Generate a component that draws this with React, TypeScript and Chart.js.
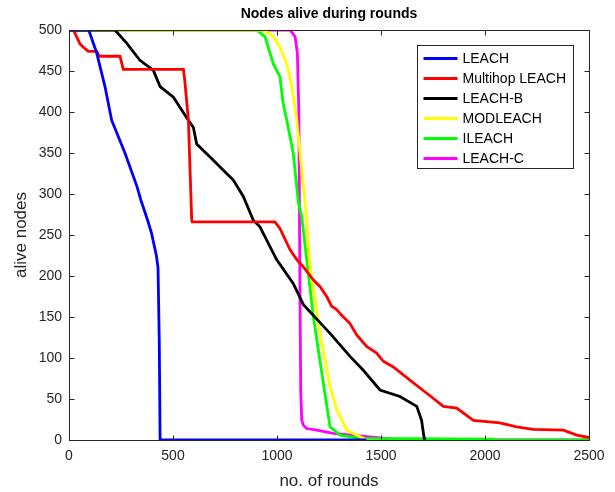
import React, { useEffect, useRef } from "react";
import { Chart, registerables } from "chart.js";

Chart.register(...registerables);

const chartTitle = "Nodes alive during rounds";
const xAxisLabel = "no. of rounds";
const yAxisLabel = "alive nodes";

const seriesNames = ["LEACH", "Multihop LEACH", "LEACH-B", "MODLEACH", "ILEACH", "LEACH-C"];
const seriesColors = ["#0000ff", "#ff0000", "#000000", "#ffff00", "#00ff00", "#ff00ff"];

const leachRounds = [0, 95, 133, 173, 205, 269, 327, 345, 378, 397, 420, 428, 434, 438, 1430];
const leachAlive = [500, 500, 472, 431, 390, 350, 309, 293, 268, 252, 225, 210, 120, 0, 0];

const multihopRounds = [0, 21, 53, 69, 93, 133, 146, 245, 261, 550, 556, 574, 590, 593, 990, 1014, 1063, 1095, 1127, 1175, 1207, 1239, 1263, 1287, 1311, 1351, 1383, 1431, 1479, 1511, 1559, 1639, 1720, 1800, 1864, 1944, 2072, 2152, 2232, 2377, 2441, 2500];
const multihopAlive = [500, 500, 483, 479, 474, 474, 468, 468, 452, 452, 440, 390, 268, 266, 266, 258, 232, 220, 211, 195, 187, 175, 163, 159, 152, 142, 128, 114, 106, 96, 89, 73, 57, 41, 39, 24, 21, 16, 13, 12, 6, 3];

const leachBRounds = [0, 221, 277, 341, 405, 438, 502, 566, 598, 614, 678, 742, 790, 838, 886, 918, 998, 1078, 1127, 1255, 1351, 1415, 1495, 1591, 1672, 1695, 1707, 1710];
const leachBAlive = [500, 500, 484, 463, 451, 431, 418, 393, 381, 361, 345, 329, 317, 297, 268, 260, 220, 191, 165, 130, 102, 85, 61, 53, 41, 24, 3, 0];

const modleachRounds = [0, 934, 982, 1014, 1047, 1071, 1095, 1119, 1143, 1159, 1207, 1255, 1287, 1335, 1415, 1430];
const modleachAlive = [500, 500, 492, 479, 459, 431, 390, 329, 268, 211, 130, 65, 37, 12, 2, 0];

const ileachRounds = [0, 902, 942, 966, 982, 1014, 1030, 1047, 1078, 1103, 1119, 1175, 1223, 1255, 1303, 1400, 2040, 2045, 2500];
const ileachAlive = [500, 500, 492, 472, 459, 443, 410, 390, 350, 289, 272, 150, 69, 16, 6, 2, 1, 0, 0];

const leachCRounds = [0, 1063, 1087, 1098, 1105, 1110, 1114, 1119, 1127, 1143, 1191, 1271, 1431, 1559, 1580, 2500];
const leachCAlive = [500, 500, 492, 472, 400, 200, 60, 24, 18, 14, 12, 8, 4, 1, 0, 0];

const xTicks = [0, 500, 1000, 1500, 2000, 2500];
const yTicks = [0, 50, 100, 150, 200, 250, 300, 350, 400, 450, 500];

const allRounds = [leachRounds, multihopRounds, leachBRounds, modleachRounds, ileachRounds, leachCRounds];
const allAlive = [leachAlive, multihopAlive, leachBAlive, modleachAlive, ileachAlive, leachCAlive];

const FONT = "'Liberation Sans', Arial, Helvetica, sans-serif";
const AXIS_COLOR = "#262626";

const framePlugin = {
  id: "matlabFrame",
  afterDatasetsDraw(chart: any) {
    const { ctx, chartArea: a, scales } = chart;
    ctx.save();
    const L = Math.round(a.left) + 0.5;
    const R = Math.round(a.right) + 0.5;
    const T = Math.round(a.top) + 0.5;
    const B = Math.round(a.bottom) + 0.5;
    ctx.strokeStyle = AXIS_COLOR;
    ctx.lineWidth = 1;
    ctx.strokeRect(L, T, R - L, B - T);
    const tl = 5;
    ctx.beginPath();
    xTicks.forEach((v) => {
      const px = Math.round(scales.x.getPixelForValue(v)) + 0.5;
      ctx.moveTo(px, B);
      ctx.lineTo(px, B - tl);
      ctx.moveTo(px, T);
      ctx.lineTo(px, T + tl);
    });
    yTicks.forEach((v) => {
      const py = Math.round(scales.y.getPixelForValue(v)) + 0.5;
      ctx.moveTo(L, py);
      ctx.lineTo(L + tl, py);
      ctx.moveTo(R, py);
      ctx.lineTo(R - tl, py);
    });
    ctx.stroke();

    // legend
    const lw = 156;
    const lh = 123;
    const lx = Math.round(a.right) - 16 - lw + 0.5;
    const ly = Math.round(a.top) + 15 + 0.5;
    ctx.fillStyle = "#ffffff";
    ctx.fillRect(lx, ly, lw, lh);
    ctx.strokeStyle = AXIS_COLOR;
    ctx.lineWidth = 1;
    ctx.strokeRect(lx, ly, lw, lh);
    ctx.font = `14px ${FONT}`;
    ctx.textBaseline = "middle";
    ctx.textAlign = "left";
    chart.data.datasets.forEach((ds: any, i: number) => {
      const yy = ly + 13 + i * 20;
      ctx.strokeStyle = ds.borderColor;
      ctx.lineWidth = 2.8;
      ctx.beginPath();
      ctx.moveTo(lx + 6, yy);
      ctx.lineTo(lx + 40, yy);
      ctx.stroke();
      ctx.fillStyle = "#000000";
      ctx.fillText(ds.label, lx + 45, yy + 1);
    });

    // titles
    const cx = (a.left + a.right) / 2;
    ctx.fillStyle = "#000000";
    ctx.font = `bold 14px ${FONT}`;
    ctx.textAlign = "center";
    ctx.textBaseline = "middle";
    ctx.fillText(chartTitle, cx, 14);
    ctx.fillStyle = AXIS_COLOR;
    ctx.font = `17px ${FONT}`;
    ctx.fillText(xAxisLabel, cx, 481);
    ctx.save();
    ctx.translate(21, (a.top + a.bottom) / 2);
    ctx.rotate(-Math.PI / 2);
    ctx.fillText(yAxisLabel, 0, 0);
    ctx.restore();
    ctx.restore();
  },
};

export default function App() {
  const canvasRef = useRef<HTMLCanvasElement | null>(null);

  useEffect(() => {
    if (!canvasRef.current) return;
    const datasets = seriesNames.map((name, i) => ({
      label: name,
      data: allRounds[i].map((r, j) => ({ x: r, y: allAlive[i][j] })),
      borderColor: seriesColors[i],
      backgroundColor: seriesColors[i],
      borderWidth: 2.8,
      pointRadius: 0,
      tension: 0,
      fill: false,
    }));
    const chart = new Chart(canvasRef.current, {
      type: "line",
      data: { datasets },
      options: {
        animation: false,
        responsive: false,
        maintainAspectRatio: false,
        layout: { padding: { left: 0, top: 30, right: 26, bottom: 0 } },
        plugins: {
          legend: { display: false },
          title: { display: false },
          tooltip: { enabled: false },
        },
        scales: {
          x: {
            type: "linear",
            min: 0,
            max: 2500,
            grid: { display: false, drawTicks: false },
            border: { display: false },
            afterFit: (s: any) => {
              s.height = 52;
            },
            afterBuildTicks: (s: any) => {
              s.ticks = xTicks.map((v) => ({ value: v }));
            },
            ticks: {
              color: AXIS_COLOR,
              font: { family: FONT, size: 14 },
              padding: 8,
              maxRotation: 0,
              autoSkip: false,
              callback: (v: any) => String(v),
            },
          },
          y: {
            type: "linear",
            min: 0,
            max: 500,
            grid: { display: false, drawTicks: false },
            border: { display: false },
            afterFit: (s: any) => {
              s.width = 69;
            },
            afterBuildTicks: (s: any) => {
              s.ticks = yTicks.map((v) => ({ value: v }));
            },
            ticks: {
              color: AXIS_COLOR,
              font: { family: FONT, size: 14 },
              padding: 7,
              autoSkip: false,
              callback: (v: any) => String(v),
            },
          },
        },
      },
      plugins: [framePlugin],
    } as any);
    return () => chart.destroy();
  }, []);

  return (
    <div style={{ position: "fixed", left: 0, top: 0, width: 615, height: 492, background: "#ffffff" }}>
      <canvas ref={canvasRef} width={615} height={492} style={{ display: "block", width: 615, height: 492 }} />
    </div>
  );
}
